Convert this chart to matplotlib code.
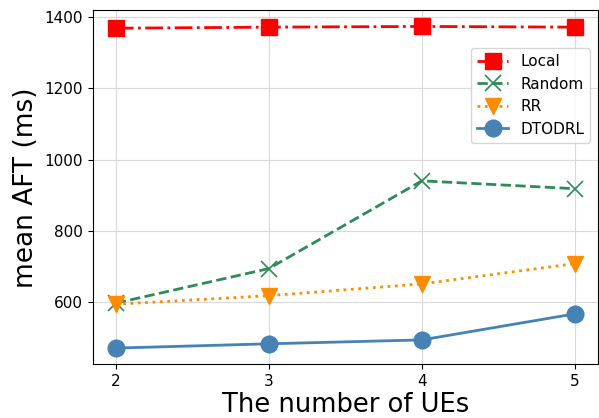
import matplotlib
matplotlib.use("Agg")
from matplotlib import pyplot as plt

ues = [2, 3, 4, 5]
local = [1369, 1372, 1374, 1372]
rand = [598, 695, 941, 919]
rr = [595, 619, 652, 709]
dtodrl = [472, 484, 495, 568]

fig = plt.figure(figsize=(5.99, 4.18), dpi=100)
ax = fig.add_axes([0.155, 0.128, 0.843, 0.848])

ax.plot(ues, local, color="red", linestyle="-.", marker="s", markersize=11, linewidth=2, label="Local")
ax.plot(ues, rand, color="seagreen", linestyle="--", marker="x", markersize=11, markeredgewidth=1.2, linewidth=2, label="Random")
ax.plot(ues, rr, color="darkorange", linestyle=":", marker="v", markersize=12, linewidth=2, label="RR")
ax.plot(ues, dtodrl, color="steelblue", linestyle="-", marker="o", markersize=12, linewidth=2, label="DTODRL")

ax.set_xlim(1.85, 5.15)
ax.set_ylim(426, 1420)
ax.set_xticks(ues)
ax.set_yticks([600, 800, 1000, 1200, 1400])
ax.tick_params(labelsize=11)
ax.grid(True, color="#d9d9d9", linewidth=0.8)
ax.set_xlabel("The number of UEs", fontsize=18.5, labelpad=2)
ax.set_ylabel("mean AFT (ms)", fontsize=19)
ax.legend(loc="upper right", bbox_to_anchor=(1.0, 0.915), fontsize=11)

fig.savefig("out.png", dpi=100)
